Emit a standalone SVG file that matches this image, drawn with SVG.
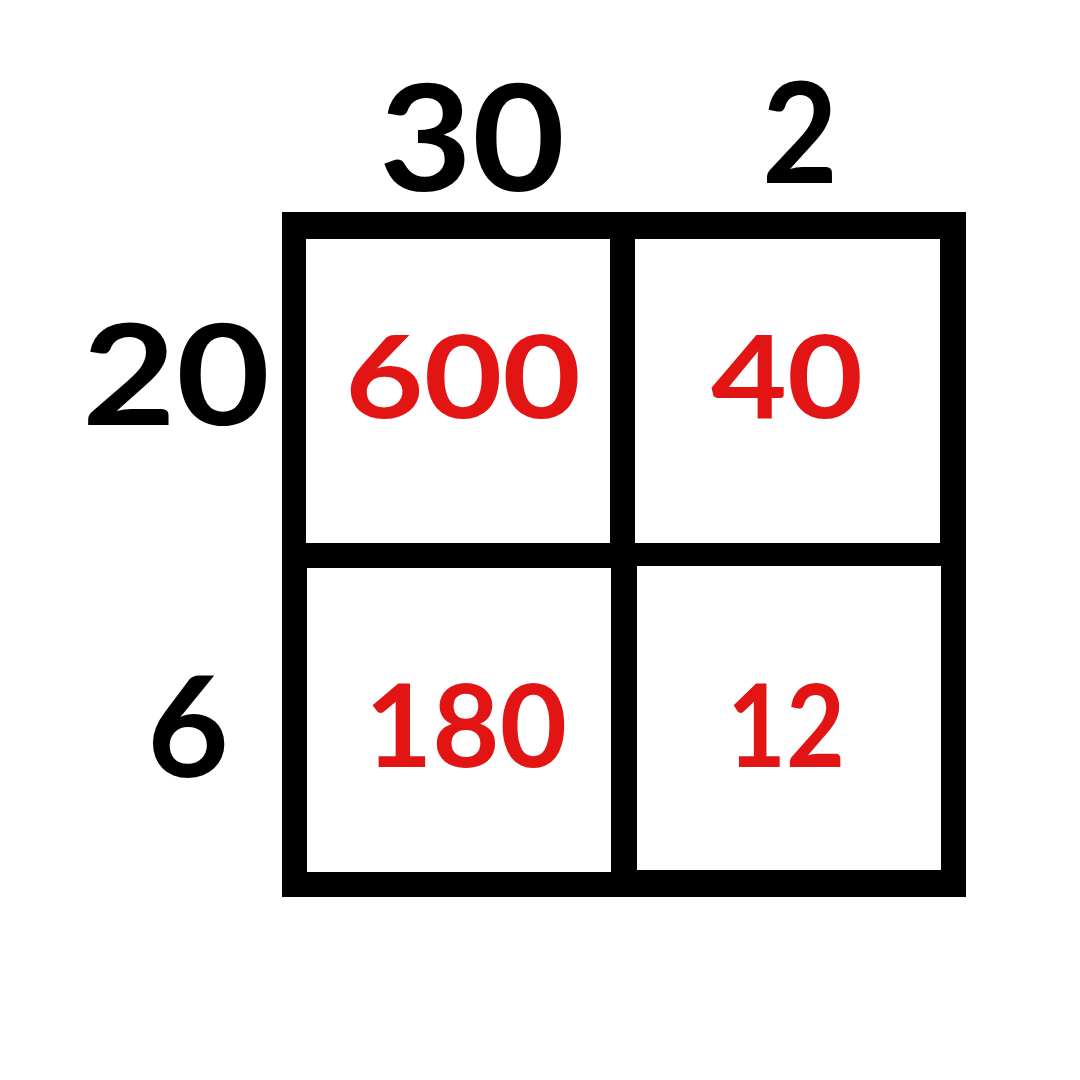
<svg xmlns="http://www.w3.org/2000/svg" width="1080" height="1080" viewBox="0 0 1080 1080">
<style>
.lbl{font-family:Lato,"Liberation Sans",sans-serif;font-weight:700;fill:#000;text-anchor:middle}
.val{font-family:Lato,"Liberation Sans",sans-serif;font-weight:700;fill:#e31414;text-anchor:middle}
.cell{fill:#fff}
</style>
<rect width="1080" height="1080" fill="#fff"/>
<g id="frame">
<rect x="282" y="212" width="684" height="685" fill="#000"/>
</g>
<g id="cell-600">
<rect class="cell" x="306" y="239" width="304" height="304"/>
<text class="val" x="463" y="418" font-size="114" textLength="236" lengthAdjust="spacingAndGlyphs">600</text>
</g>
<g id="cell-40">
<rect class="cell" x="635" y="239" width="305" height="304"/>
<text class="val" x="787" y="418" font-size="114" textLength="152" lengthAdjust="spacingAndGlyphs">40</text>
</g>
<g id="cell-180">
<rect class="cell" x="307" y="568" width="304" height="304"/>
<text class="val" x="466" y="767" font-size="114" textLength="202" lengthAdjust="spacingAndGlyphs">180</text>
</g>
<g id="cell-12">
<rect class="cell" x="637" y="566" width="304" height="304"/>
<text class="val" x="786" y="767" font-size="114" textLength="118" lengthAdjust="spacingAndGlyphs">12</text>
</g>
<g id="label-30"><text class="lbl" x="472" y="191" font-size="148" textLength="186" lengthAdjust="spacingAndGlyphs">30</text></g>
<g id="label-2"><text class="lbl" x="800" y="183" font-size="140" textLength="76" lengthAdjust="spacingAndGlyphs">2</text></g>
<g id="label-20"><text class="lbl" x="176" y="425" font-size="140" textLength="188" lengthAdjust="spacingAndGlyphs">20</text></g>
<g id="label-6"><text class="lbl" x="188" y="777" font-size="140" textLength="82" lengthAdjust="spacingAndGlyphs">6</text></g>
<g id="connectors"/>
</svg>
